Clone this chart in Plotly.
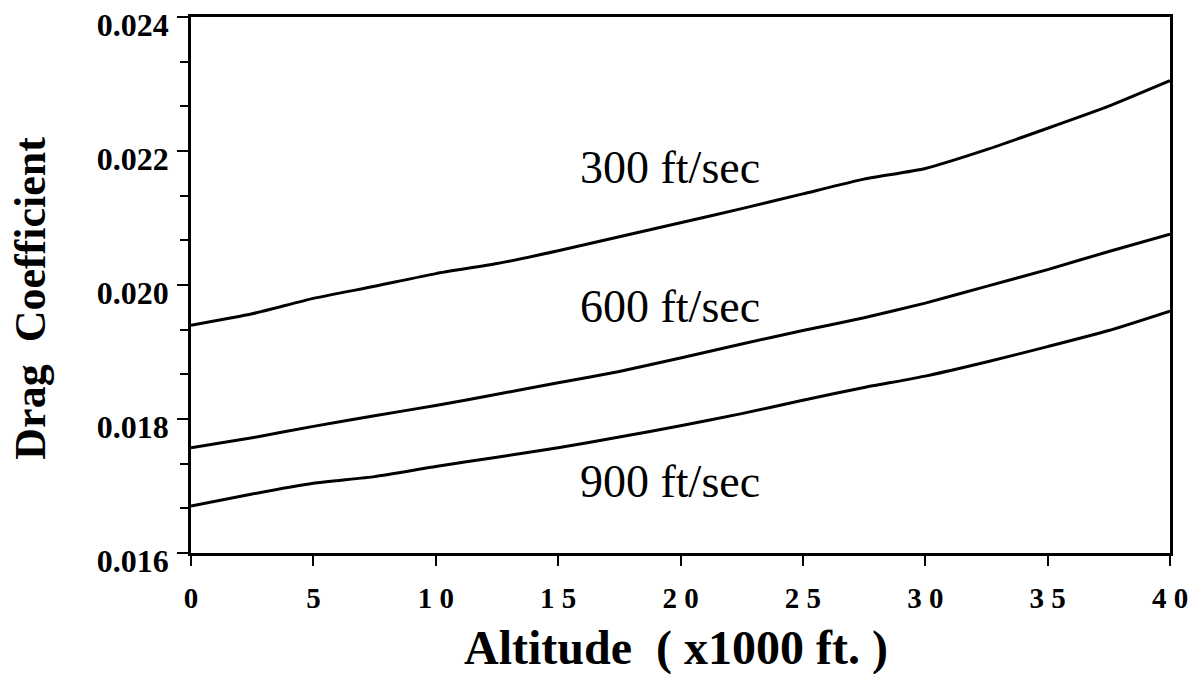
import plotly.graph_objects as go

altitude = [0, 2.5, 5, 7.5, 10, 12.5, 15, 17.5, 20, 22.5, 25, 27.5, 30, 32.5, 35, 37.5, 40]

cd_300 = [0.01940, 0.01957, 0.01980, 0.01998, 0.02017, 0.02032, 0.02051, 0.02072, 0.02093,
          0.02114, 0.02136, 0.02158, 0.02174, 0.02202, 0.02234, 0.02267, 0.02305]
cd_600 = [0.01757, 0.01772, 0.01789, 0.01805, 0.01820, 0.01837, 0.01854, 0.01871, 0.01891,
          0.01912, 0.01932, 0.01951, 0.01973, 0.01998, 0.02023, 0.02050, 0.02076]
cd_900 = [0.01670, 0.01688, 0.01704, 0.01714, 0.01729, 0.01743, 0.01757, 0.01773, 0.01790,
          0.01808, 0.01828, 0.01847, 0.01864, 0.01885, 0.01908, 0.01932, 0.01961]

series_names = ["300 ft/sec", "600 ft/sec", "900 ft/sec"]
label_x = [15.8, 15.8, 15.8]
label_y = [0.02175, 0.01968, 0.01706]

x_tickvals = [0, 5, 10, 15, 20, 25, 30, 35, 40]
x_ticktext = ["0", "5", "1 0", "1 5", "2 0", "2 5", "3 0", "3 5", "4 0"]
y_tickvals = [0.016, 0.018, 0.020, 0.022, 0.024]
y_ticktext = ["0.016", "0.018", "0.020", "0.022", "0.024"]

SERIF = "Liberation Serif, Times New Roman, serif"

fig = go.Figure()
for name, ys in zip(series_names, [cd_300, cd_600, cd_900]):
    fig.add_trace(go.Scatter(x=altitude, y=ys, mode="lines", name=name,
                             line=dict(color="black", width=3, shape="spline", smoothing=0.5),
                             showlegend=False))

for name, lx, ly in zip(series_names, label_x, label_y):
    fig.add_annotation(x=lx, y=ly, xref="x", yref="y", text=name, showarrow=False,
                       xanchor="left", yanchor="middle",
                       font=dict(family=SERIF, size=46, color="black"))

# axis titles
fig.add_annotation(x=0.4954, y=0, xref="paper", yref="paper", yshift=-95,
                   text="<b>Altitude  ( x1000 ft. )</b>", showarrow=False,
                   xanchor="center", yanchor="middle",
                   font=dict(family=SERIF, size=48, color="black"))
fig.add_annotation(x=0, y=0.4745, xref="paper", yref="paper", xshift=-160,
                   text="<b>Drag  Coefficient</b>", showarrow=False, textangle=-90,
                   xanchor="center", yanchor="middle",
                   font=dict(family=SERIF, size=44, color="black"))

minor_y = [0.016 + i * 0.002 / 3 for i in range(1, 12) if i % 3 != 0]

fig.update_layout(
    width=1187, height=666,
    margin=dict(l=183, r=25, t=9, b=121, autoexpand=False),
    paper_bgcolor="white", plot_bgcolor="white",
    xaxis=dict(range=[-0.0001, 40.0001], tickvals=x_tickvals, ticktext=x_ticktext,
               showgrid=False, zeroline=False, automargin=False,
               showline=True, linecolor="black", linewidth=2.6, mirror=True,
               ticks="outside", ticklen=10, tickwidth=2.2, tickcolor="black",
               ticklabelstandoff=7, ticklabeloverflow="allow",
               tickfont=dict(family=SERIF, size=29, color="black", weight="bold")),
    yaxis=dict(range=[0.0159999, 0.0240001], tickvals=y_tickvals, ticktext=y_ticktext,
               showgrid=False, zeroline=False, automargin=False,
               showline=True, linecolor="black", linewidth=2.6, mirror=True,
               ticks="outside", ticklen=11, tickwidth=2.2, tickcolor="black",
               ticklabelstandoff=2, ticklabelshift=8, ticklabeloverflow="allow",
               tickfont=dict(family=SERIF, size=32, color="black", weight="bold"),
               minor=dict(tickmode="array", tickvals=minor_y, ticks="outside",
                          ticklen=8, tickwidth=2, tickcolor="black", showgrid=False)),
)

fig.write_html("out.html")
